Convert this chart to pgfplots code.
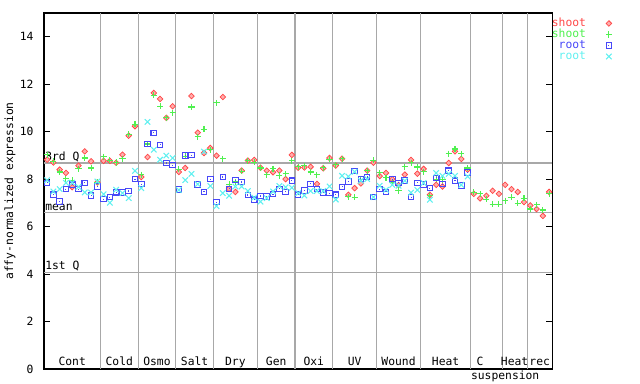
\documentclass[border=0pt]{standalone}
\usepackage{pgfplots}
\pgfplotsset{compat=1.18}
\usepackage{pgfplotstable}
\usepackage{fontspec}
\setmonofont{DejaVu Sans Mono}
\definecolor{cred}{HTML}{FF4848}
\definecolor{cgreen}{HTML}{50F050}
\definecolor{cblue}{HTML}{4848F8}
\definecolor{ccyan}{HTML}{60F0F0}
\definecolor{sepgray}{HTML}{A8A8A8}
\newcommand{\lblfont}{\ttfamily\fontsize{8.5}{10}\selectfont}
\tikzset{glab/.style={font=\lblfont, anchor=base, inner sep=0pt, yshift=2.4pt}}

\pgfdeclareplotmark{sqdot}{%
 \pgfpathrectangle{\pgfpoint{-\pgfplotmarksize}{-\pgfplotmarksize}}{\pgfpoint{2\pgfplotmarksize}{2\pgfplotmarksize}}%
 \pgfusepathqstroke
 \pgfpathrectangle{\pgfpoint{-0.4pt}{-0.4pt}}{\pgfpoint{0.8pt}{0.8pt}}%
 \pgfusepathqfill}
\pgfdeclareplotmark{rdiam}{%
 \pgfpathmoveto{\pgfqpoint{0pt}{\pgfplotmarksize}}%
 \pgfpathlineto{\pgfqpoint{\pgfplotmarksize}{0pt}}%
 \pgfpathlineto{\pgfqpoint{0pt}{-\pgfplotmarksize}}%
 \pgfpathlineto{\pgfqpoint{-\pgfplotmarksize}{0pt}}%
 \pgfpathclose
 \pgfusepathqfillstroke}

\pgfplotstableread{
x y
1 8.82
2 8.70
3 8.40
4 8.26
5 7.66
6 8.57
7 9.17
8 8.75
9 7.86
10 8.77
11 8.77
12 8.69
13 9.03
14 9.83
15 10.23
16 8.09
17 8.93
18 11.63
19 11.38
20 10.58
21 11.07
22 8.30
23 8.47
24 11.50
25 9.96
26 9.10
27 9.31
28 8.99
29 11.46
30 7.59
31 7.46
32 8.36
33 8.78
34 8.81
35 8.48
36 8.36
37 8.29
38 8.36
39 8.00
40 9.02
41 8.48
42 8.49
43 8.52
44 7.80
45 8.46
46 8.89
47 8.57
48 8.86
49 7.34
50 7.62
51 7.82
52 8.36
53 8.69
54 8.13
55 8.26
56 8.00
57 7.75
58 8.19
59 8.81
60 8.23
61 8.43
62 7.34
63 7.76
64 7.69
65 8.68
66 9.17
67 8.85
68 8.40
69 7.38
70 7.19
71 7.30
72 7.51
73 7.38
74 7.76
75 7.58
76 7.46
77 7.03
78 6.89
79 6.74
80 6.45
81 7.46
}\shootA

\pgfplotstableread{
x y
1 9.03
2 8.75
3 8.30
4 8.02
5 7.95
6 8.43
7 8.89
8 8.47
9 7.87
10 8.95
11 8.79
12 8.70
13 8.86
14 9.89
15 10.32
16 8.19
17 9.48
18 11.53
19 11.07
20 10.58
21 10.79
22 8.41
23 8.96
24 11.04
25 9.78
26 10.11
27 9.24
28 11.21
29 8.85
30 7.78
31 7.89
32 8.34
33 8.78
34 8.72
35 8.47
36 8.18
37 8.43
38 8.15
39 8.22
40 8.78
41 8.52
42 8.57
43 8.30
44 8.18
45 8.48
46 8.83
47 8.61
48 8.86
49 7.26
50 7.24
51 8.00
52 8.36
53 8.79
54 8.26
55 8.05
56 7.85
57 7.52
58 8.52
59 8.69
60 8.51
61 8.31
62 7.30
63 8.00
64 7.97
65 9.07
66 9.27
67 9.07
68 8.47
69 7.44
70 7.38
71 7.16
72 6.95
73 6.95
74 7.09
75 7.24
76 6.99
77 7.20
78 6.74
79 6.92
80 6.70
81 7.38
}\shootB

\pgfplotstableread{
x y
1 7.84
2 7.34
3 7.05
4 7.58
5 7.76
6 7.58
7 7.84
8 7.30
9 7.70
10 7.16
11 7.24
12 7.45
13 7.43
14 7.50
15 8.00
16 7.79
17 9.48
18 9.95
19 9.44
20 8.68
21 8.59
22 7.57
23 8.99
24 9.01
25 7.78
26 7.46
27 8.00
28 7.03
29 8.09
30 7.59
31 7.96
32 7.88
33 7.33
34 7.13
35 7.29
36 7.27
37 7.37
38 7.59
39 7.46
40 7.93
41 7.34
42 7.51
43 7.80
44 7.58
45 7.43
46 7.41
47 7.34
48 7.67
49 7.89
50 8.34
51 8.01
52 8.09
53 7.24
54 7.58
55 7.46
56 8.00
57 7.84
58 7.95
59 7.24
60 7.84
61 7.78
62 7.62
63 8.05
64 7.79
65 8.35
66 7.93
67 7.73
68 8.28
}\rootA

\pgfplotstableread{
x y
1 7.95
2 7.48
3 7.58
4 7.84
5 7.85
6 7.67
7 7.44
8 7.44
9 7.90
10 7.36
11 7.00
12 7.55
13 7.41
14 7.20
15 8.35
16 7.62
17 10.41
18 9.24
19 8.82
20 8.99
21 8.89
22 7.54
23 7.96
24 8.22
25 7.79
26 9.16
27 7.71
28 6.86
29 7.41
30 7.30
31 7.69
32 7.69
33 7.50
34 7.22
35 7.05
36 7.20
37 7.48
38 7.71
39 7.66
40 7.64
41 7.41
42 7.31
43 7.50
44 7.50
45 7.50
46 7.69
47 7.14
48 8.14
49 8.11
50 8.31
51 7.93
52 8.00
53 7.24
54 7.72
55 7.55
56 7.76
57 7.72
58 7.93
59 7.43
60 7.54
61 7.84
62 7.13
63 8.26
64 8.14
65 8.22
66 8.14
67 7.76
68 8.11
}\rootB

\begin{document}
\begin{tikzpicture}
\useasboundingbox (-33pt,-11.25pt) rectangle (447pt,276.75pt);
\begin{axis}[
  at={(0,0)}, anchor=south west,
  scale only axis, width=381.2pt, height=267pt,
  xmin=0.5, xmax=81.5, ymin=0, ymax=15,
  xtick=\empty,
  ytick={0,2,4,6,8,10,12,14},
  tick align=inside,
  major tick length=4.5pt,
  axis line style={line width=0.8pt},
  every tick/.style={black, line width=0.8pt},
  /pgf/number format/assume math mode=true,
  yticklabel style={font=\lblfont, xshift=-4.3pt},
  ylabel={affy-normalized expression},
  ylabel style={font=\lblfont, at={(axis description cs:-0.067,0.5)}, anchor=center},
  extra x ticks={9.5,15.5,21.5,27.5,34.5,40.5,46.5,53.5,60.5,68.5,73.5,77.5},
  extra x tick labels={},
  extra y ticks={8.68,6.61,4.08},
  extra y tick labels={},
  extra tick style={grid=major, major tick length=0pt, major grid style={sepgray, line width=0.8pt}},
  clip=false,
  legend plot pos=right,
  legend cell align=right,
  legend image code/.code={\path (-3pt,0pt) (3pt,0pt); \draw[#1] plot coordinates {(0pt,0pt)};},
  legend style={at={(rel axis cs:1,1)}, anchor=north west, yshift=-3.9pt, xshift=-1pt, draw=none, fill=none,
    font=\lblfont, inner sep=0pt, row sep=0.75pt,
    nodes={inner sep=0.5pt, text height=5.5pt, text depth=1pt},
    /tikz/every odd column/.style={column sep=13.5pt}},
]
\addplot[only marks, mark=rdiam, mark size=2.1pt, mark options={draw=cred, fill=cred!45, line width=0.55pt}] table[x=x,y=y] {\shootA};
\addlegendentry[text=cred]{shoot}
\addplot[only marks, mark=+, mark size=2.3pt, mark options={draw=cgreen, line width=0.8pt}] table[x=x,y=y] {\shootB};
\addlegendentry[text=cgreen]{shoot}
\addplot[only marks, mark=sqdot, mark size=2.1pt, mark options={draw=cblue, fill=cblue, line width=0.8pt}] table[x=x,y=y] {\rootA};
\addlegendentry[text=cblue]{root}
\addplot[only marks, mark=x, mark size=2.9pt, mark options={draw=ccyan, line width=0.8pt}] table[x=x,y=y] {\rootB};
\addlegendentry[text=ccyan]{root}

\node[font=\lblfont, anchor=south west, inner sep=0.8pt] at (axis cs:0.5,8.68) {3rd Q};
\node[font=\lblfont, anchor=south west, inner sep=0.8pt] at (axis cs:0.5,6.61) {mean};
\node[font=\lblfont, anchor=south west, inner sep=0.8pt] at (axis cs:0.5,4.08) {1st Q};

\node[glab] at (axis cs:5,0) {Cont};
\node[glab] at (axis cs:12.5,0) {Cold};
\node[glab] at (axis cs:18.5,0) {Osmo};
\node[glab] at (axis cs:24.5,0) {Salt};
\node[glab] at (axis cs:31,0) {Dry};
\node[glab] at (axis cs:37.5,0) {Gen};
\node[glab] at (axis cs:43.5,0) {Oxi};
\node[glab] at (axis cs:50,0) {UV};
\node[glab] at (axis cs:57,0) {Wound};
\node[glab] at (axis cs:64.5,0) {Heat};
\node[glab] at (axis cs:70.0,0) {C};
\node[glab] at (axis cs:75.5,0) {Heat};
\node[glab] at (axis cs:79.5,0) {rec};
\node[font=\lblfont, anchor=north west, inner sep=1.5pt] at (axis cs:68.2,0) {suspension};
\end{axis}
\end{tikzpicture}
\end{document}
